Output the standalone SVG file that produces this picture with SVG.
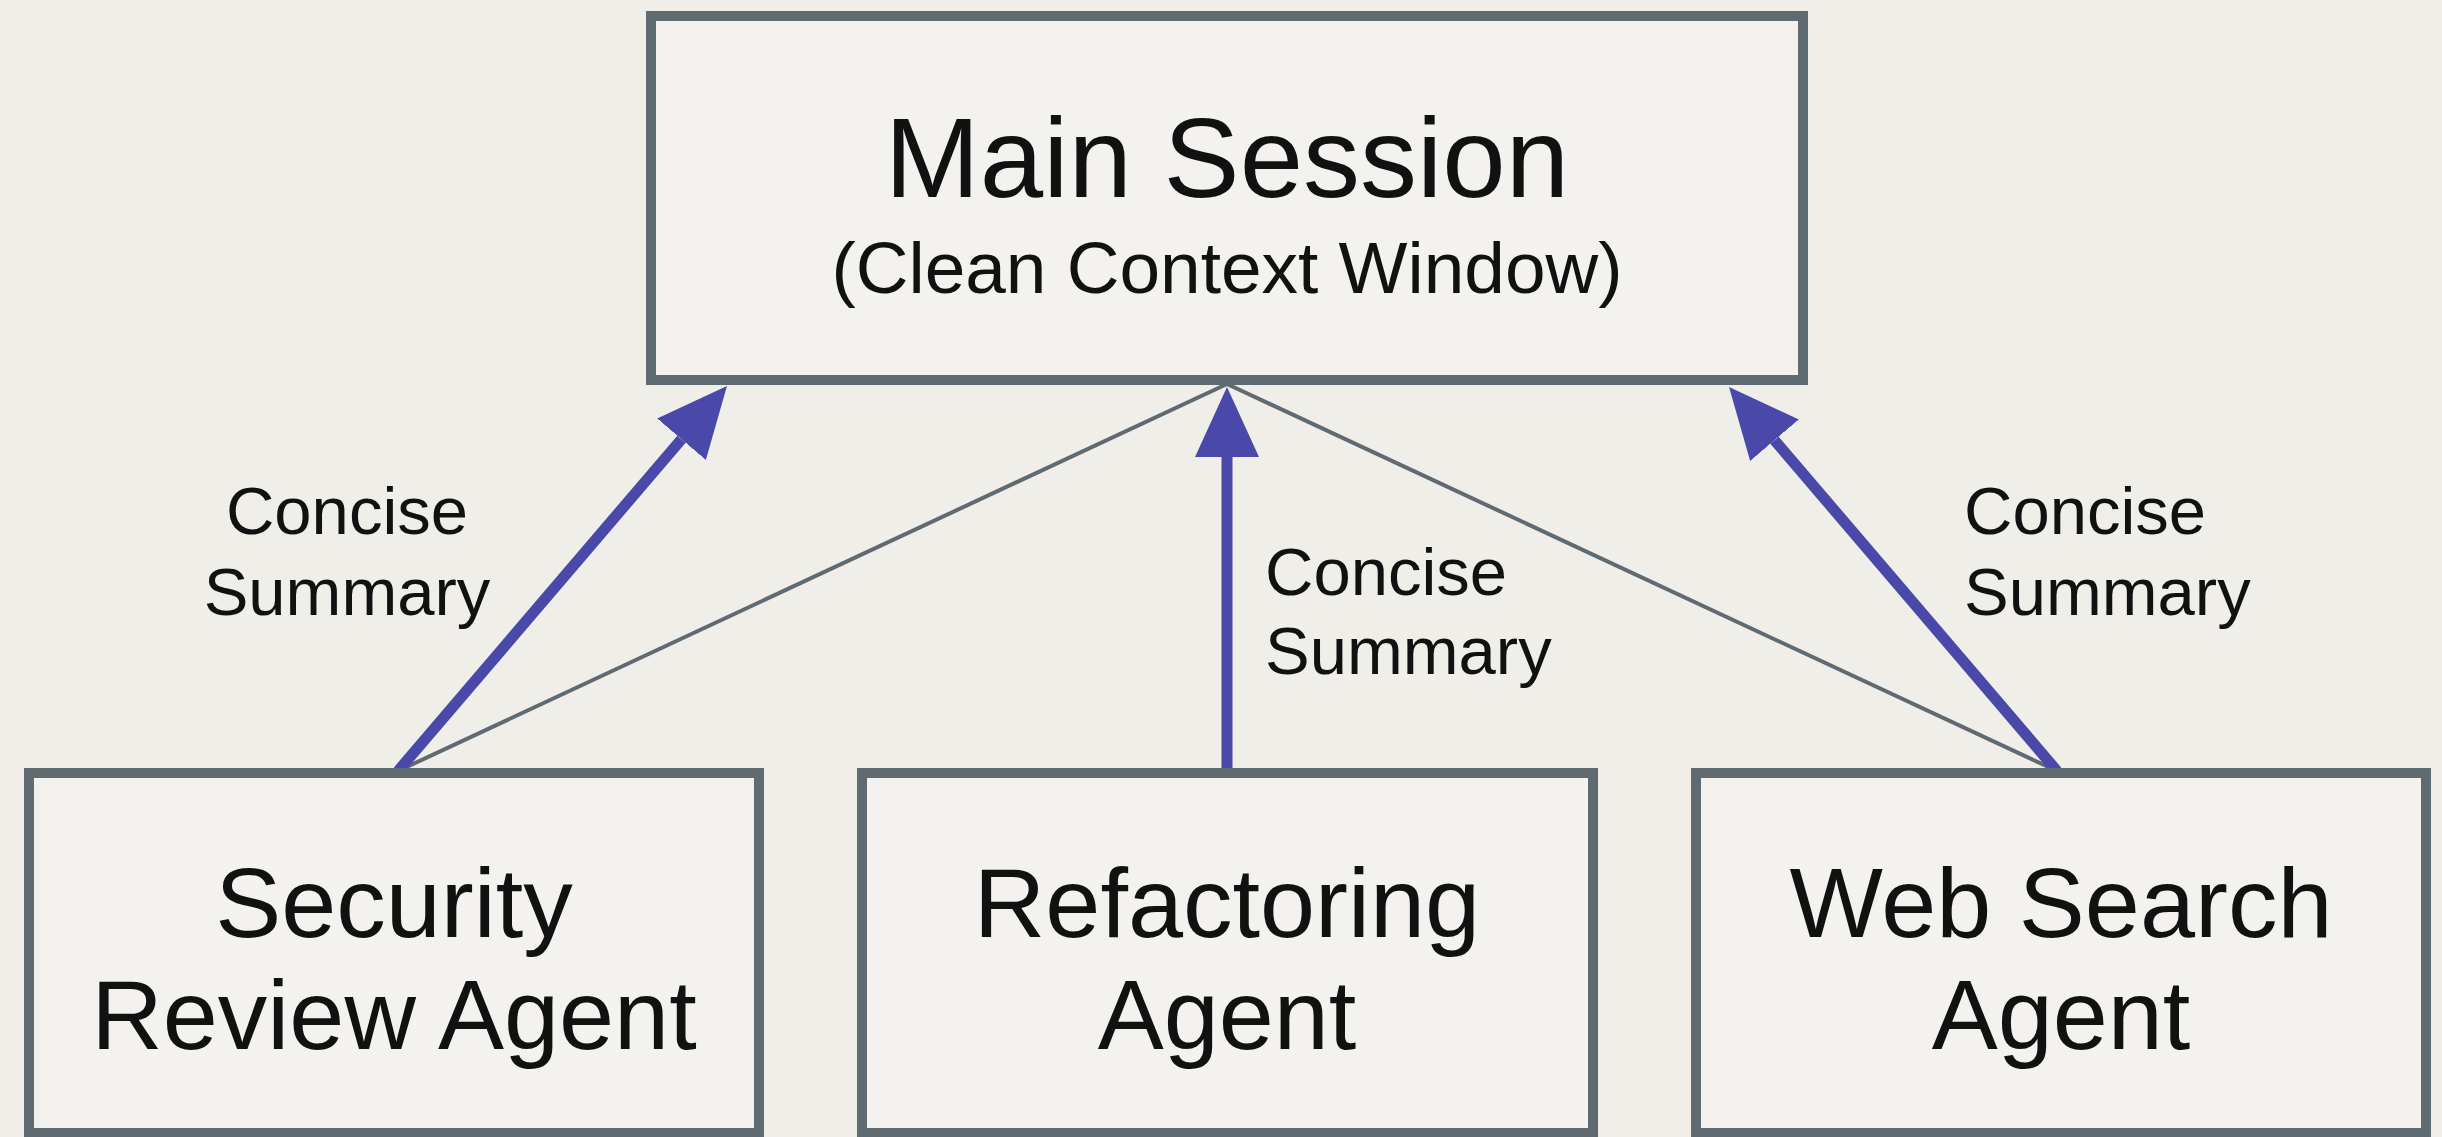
<svg xmlns="http://www.w3.org/2000/svg" width="2442" height="1137" viewBox="0 0 2442 1137">
<defs>
<style>
.box{fill:#f3f2ee;stroke:#5f6a71;stroke-width:10}
.t{font-family:"Liberation Sans",Arial,sans-serif;fill:#111;text-anchor:middle}
.lbl{font-family:"Liberation Sans",Arial,sans-serif;fill:#111;font-size:67px}
.thin{stroke:#5f6a71;stroke-width:4;fill:none}
.arr{stroke:#4a48a8;stroke-width:11;fill:none;marker-end:url(#ah)}
</style>
<marker id="ah" markerUnits="userSpaceOnUse" markerWidth="72" markerHeight="64" refX="0" refY="32" orient="auto">
<path d="M0,0 L70,32 L0,64 Z" fill="#4a48a8"/>
</marker>
</defs>
<rect width="2442" height="1137" fill="#f0eee9"/>
<g id="connectors">
<line class="thin" x1="1227" y1="384" x2="398" y2="771"/>
<line class="thin" x1="1227" y1="384" x2="2057" y2="771"/>
<line class="arr" x1="398" y1="771" x2="681.5" y2="439.2"/>
<line class="arr" x1="1227" y1="771" x2="1227" y2="457"/>
<line class="arr" x1="2057" y1="771" x2="1774.5" y2="440.2"/>
</g>
<g id="main-session">
<rect class="box" x="651" y="16" width="1152" height="364"/>
<text class="t" x="1227" y="197" font-size="114">Main Session</text>
<text class="t" x="1227" y="293" font-size="73">(Clean Context Window)</text>
</g>
<g id="security-review-agent">
<rect class="box" x="29" y="773" width="730" height="360"/>
<text class="t" x="394" y="937" font-size="99">Security</text>
<text class="t" x="394" y="1049" font-size="99">Review Agent</text>
</g>
<g id="refactoring-agent">
<rect class="box" x="862" y="773" width="731" height="360"/>
<text class="t" x="1227" y="937" font-size="99">Refactoring</text>
<text class="t" x="1227" y="1049" font-size="99">Agent</text>
</g>
<g id="web-search-agent">
<rect class="box" x="1696" y="773" width="730" height="360"/>
<text class="t" x="2061" y="937" font-size="99">Web Search</text>
<text class="t" x="2061" y="1049" font-size="99">Agent</text>
</g>
<g id="labels">
<text class="lbl" x="347" y="534" text-anchor="middle">Concise</text>
<text class="lbl" x="347" y="615" text-anchor="middle">Summary</text>
<text class="lbl" x="1265" y="595">Concise</text>
<text class="lbl" x="1265" y="674">Summary</text>
<text class="lbl" x="1964" y="534">Concise</text>
<text class="lbl" x="1964" y="615">Summary</text>
</g>
</svg>
